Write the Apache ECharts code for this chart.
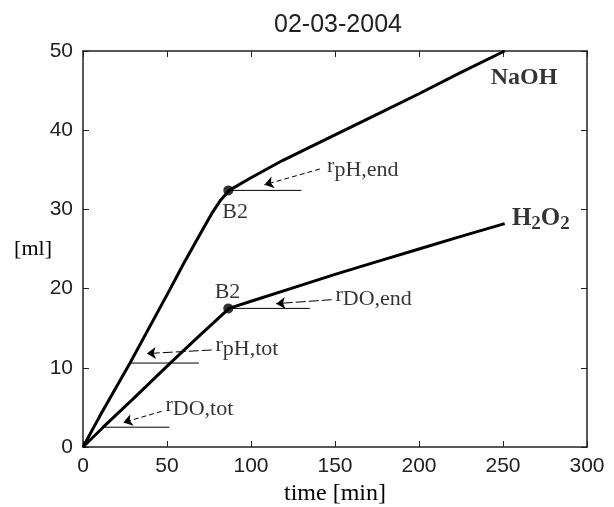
<!DOCTYPE html>
<html>
<head>
<meta charset="utf-8">
<title>02-03-2004</title>
<script src="https://cdn.jsdelivr.net/npm/echarts@6/dist/echarts.min.js"></script>
<style>
html,body{margin:0;padding:0;background:#fff;}
#chart{width:614px;height:507px;}
</style>
</head>
<body>
<div id="chart"></div>
<script>
//曲线数据 (time [min], [ml])
var naoh_t = [0, 10, 28, 52, 60, 70, 77, 82, 87, 100, 119, 150, 175, 200, 225, 251];
var naoh_v = [0, 3.9, 10.6, 20, 23.2, 27, 29.6, 31.2, 32.4, 34, 36.2, 39.4, 42, 44.6, 47.3, 50];
var h2o2_t = [0, 12, 30, 49, 56, 70, 87, 100, 125, 150, 175, 200, 225, 251];
var h2o2_v = [0, 2.5, 6.1, 10, 11.4, 14.2, 17.5, 18.4, 20.1, 21.8, 23.4, 25, 26.6, 28.2];

//B2点
var b2_t = [86.5, 86.5];
var b2_v = [32.4, 17.5];

//水平参考线 [起点, 终点]
var ref_lines = [
	[[87, 32.4], [130, 32.4]],
	[[87, 17.5], [135, 17.5]],
	[[28, 10.6], [69, 10.6]],
	[[12, 2.5], [51.4, 2.5]]
];
//箭头 [起点, 终点]
var arrows = [
	[[141, 35.1], [108, 33.1]],
	[[148, 18.6], [115, 18.1]],
	[[76.6, 12.25], [38, 11.8]],
	[[46.8, 4.5], [24, 3.1]]
];
//速率文字
var rate_pos = [[145, 35.5], [150, 19.2], [78.6, 12.9], [48.8, 5.3]];
var rate_sub = ['pH,end', 'DO,end', 'pH,tot', 'DO,tot'];

//其他文字
var b2_label_pos = [[90.5, 29.7], [86, 19.6]];
var naoh_label_pos = [262.5, 46.6];
var h2o2_label_pos = [255, 28.8];

var SERIF = "'Liberation Serif', 'Times New Roman', serif";
var SANS = "'Liberation Sans', Arial, sans-serif";
var dash_types = [[5, 3], [10, 3], [10, 3], [5, 3]];

function zip(a, b){
	var out = [];
	for(var i = 0; i < a.length; i++){
		out.push([a[i], b[i]]);
	}
	return out;
}

function make_axis(dim, pos, show_label){
	var ax = {
		type: 'value',
		position: pos,
		min: 0,
		max: dim == 'x' ? 300 : 50,
		interval: dim == 'x' ? 50 : 10,
		axisLine: {show: true, onZero: false, lineStyle: {color: '#222', width: 1.5}},
		axisTick: {show: true, inside: true, length: 6, lineStyle: {color: '#222', width: 1}},
		splitLine: {show: false},
		axisLabel: {
			show: show_label,
			color: '#222',
			fontFamily: SANS,
			fontSize: 21,
			margin: dim == 'x' ? 9 : 10
		}
	};
	return ax;
}

var myChart = echarts.init(document.getElementById('chart'), null, {renderer: 'canvas'});

var series = [];
//主曲线
series.push({
	type: 'line', name: 'NaOH', data: zip(naoh_t, naoh_v),
	symbol: 'none', lineStyle: {color: '#000', width: 3}, z: 5
});
series.push({
	type: 'line', name: 'H2O2', data: zip(h2o2_t, h2o2_v),
	symbol: 'none', lineStyle: {color: '#000', width: 3}, z: 5
});
//参考线
for(var i = 0; i < ref_lines.length; i++){
	series.push({
		type: 'line', data: ref_lines[i], symbol: 'none',
		lineStyle: {color: '#000', width: 1}, z: 4
	});
}
//箭头
series.push({
	type: 'line', data: [], symbol: 'none',
	markLine: {
		silent: true,
		symbol: ['none', 'arrow'],
		symbolSize: [9, 9],
		label: {show: false},
		data: arrows.map(function(a, k){
			return [
				{coord: a[0], lineStyle: {color: '#000', width: 1, type: dash_types[k]}},
				{coord: a[1]}
			];
		})
	}
});
//B2点
series.push({
	type: 'scatter', data: zip(b2_t, b2_v), symbol: 'circle', symbolSize: 10,
	itemStyle: {color: '#000'}, z: 6
});
//文字
var texts = [];
for(var j = 0; j < rate_pos.length; j++){
	texts.push({
		value: rate_pos[j],
		label: {
			show: true, position: 'right', distance: 0,
			formatter: '{r|r}{s|' + rate_sub[j] + '}',
			rich: {
				r: {fontFamily: SERIF, fontSize: 22, lineHeight: 30, color: '#000', verticalAlign: 'middle'},
				s: {fontFamily: SERIF, fontSize: 22, lineHeight: 14, color: '#000', verticalAlign: 'bottom'}
			}
		}
	});
}
for(var k = 0; k < b2_label_pos.length; k++){
	texts.push({
		value: b2_label_pos[k],
		label: {show: true, position: 'inside', formatter: 'B2', fontFamily: SERIF, fontSize: 22, color: '#000'}
	});
}
texts.push({
	value: naoh_label_pos,
	label: {show: true, position: 'inside', formatter: 'NaOH', fontFamily: SERIF, fontSize: 24, fontWeight: 'bold', color: '#000'}
});
texts.push({
	value: h2o2_label_pos,
	label: {
		show: true, position: 'right', distance: 0,
		formatter: '{b|H}{bs|2}{b|O}{bs|2}',
		rich: {
			b: {fontFamily: SERIF, fontSize: 25, fontWeight: 'bold', lineHeight: 30, color: '#000'},
			bs: {fontFamily: SERIF, fontSize: 19, fontWeight: 'bold', lineHeight: 14, color: '#000', verticalAlign: 'bottom'}
		}
	}
});
series.push({
	type: 'scatter', data: texts, symbol: 'circle', symbolSize: 1,
	itemStyle: {color: 'rgba(0,0,0,0)'}, z: 7
});

var xb = make_axis('x', 'bottom', true);
xb.name = 'time [min]';
xb.nameLocation = 'middle';
xb.nameGap = 32;
xb.nameTextStyle = {fontFamily: SERIF, fontSize: 24, color: '#000'};
var yl = make_axis('y', 'left', true);
yl.name = '[ml]';
yl.nameLocation = 'middle';
yl.nameRotate = 0;
yl.nameGap = 31;
yl.nameMoveOverlap = false;
yl.nameTextStyle = {fontFamily: SERIF, fontSize: 22, color: '#000', align: 'right'};

var option = {
	animation: false,
	backgroundColor: '#fff',
	title: {
		text: '02-03-2004',
		left: 333,
		top: 8,
		textAlign: 'center',
		textStyle: {fontFamily: SANS, fontSize: 25, fontWeight: 'normal', color: '#222'}
	},
	grid: {left: 83, right: 27, top: 51, bottom: 60, containLabel: false, outerBoundsMode: 'none'},
	xAxis: [xb, make_axis('x', 'top', false)],
	yAxis: [yl, make_axis('y', 'right', false)],
	series: series
};
myChart.setOption(option);
</script>
</body>
</html>
